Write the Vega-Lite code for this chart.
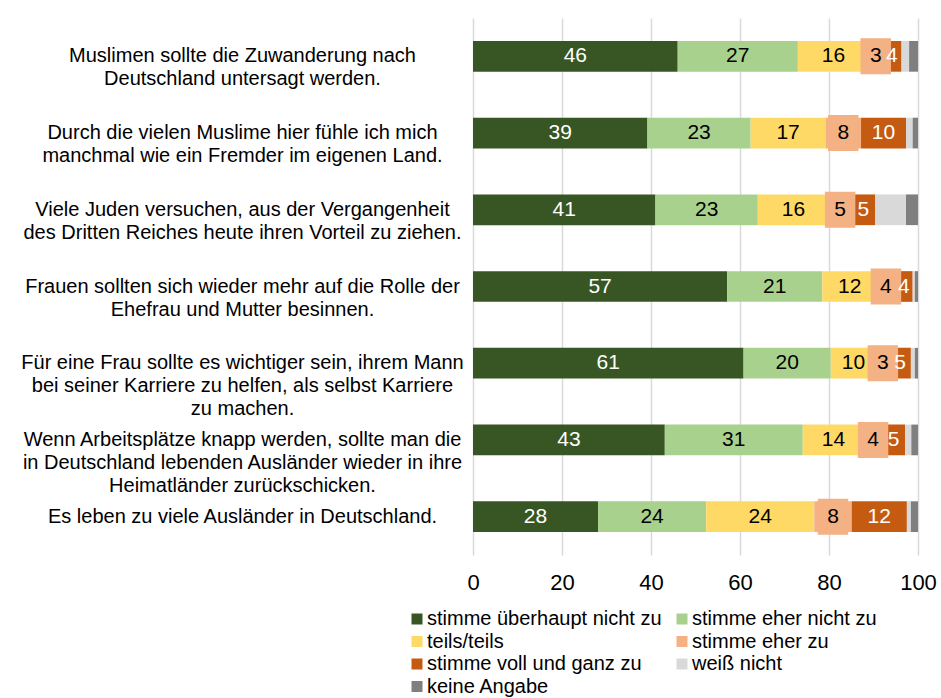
{
  "$schema": "https://vega.github.io/schema/vega-lite/v6.json",
  "width": 445,
  "height": 537,
  "autosize": {"type": "none"},
  "padding": {"left": 473, "top": 18, "right": 23, "bottom": 143},
  "background": "white",
  "config": {"view": {"stroke": null}, "font": "Liberation Sans"},
  "data": {
    "values": [
      {"q": "Muslimen sollte die Zuwanderung nach\nDeutschland untersagt werden.", "c": "stimme überhaupt nicht zu", "o": 1, "v": 46},
      {"q": "Muslimen sollte die Zuwanderung nach\nDeutschland untersagt werden.", "c": "stimme eher nicht zu", "o": 2, "v": 27},
      {"q": "Muslimen sollte die Zuwanderung nach\nDeutschland untersagt werden.", "c": "teils/teils", "o": 3, "v": 16},
      {"q": "Muslimen sollte die Zuwanderung nach\nDeutschland untersagt werden.", "c": "stimme eher zu", "o": 4, "v": 3},
      {"q": "Muslimen sollte die Zuwanderung nach\nDeutschland untersagt werden.", "c": "stimme voll und ganz zu", "o": 5, "v": 4.3},
      {"q": "Muslimen sollte die Zuwanderung nach\nDeutschland untersagt werden.", "c": "weiß nicht", "o": 6, "v": 1.7},
      {"q": "Muslimen sollte die Zuwanderung nach\nDeutschland untersagt werden.", "c": "keine Angabe", "o": 7, "v": 2},

      {"q": "Durch die vielen Muslime hier fühle ich mich\nmanchmal wie ein Fremder im eigenen Land.", "c": "stimme überhaupt nicht zu", "o": 1, "v": 39.2},
      {"q": "Durch die vielen Muslime hier fühle ich mich\nmanchmal wie ein Fremder im eigenen Land.", "c": "stimme eher nicht zu", "o": 2, "v": 23.2},
      {"q": "Durch die vielen Muslime hier fühle ich mich\nmanchmal wie ein Fremder im eigenen Land.", "c": "teils/teils", "o": 3, "v": 16.8},
      {"q": "Durch die vielen Muslime hier fühle ich mich\nmanchmal wie ein Fremder im eigenen Land.", "c": "stimme eher zu", "o": 4, "v": 8},
      {"q": "Durch die vielen Muslime hier fühle ich mich\nmanchmal wie ein Fremder im eigenen Land.", "c": "stimme voll und ganz zu", "o": 5, "v": 10.1},
      {"q": "Durch die vielen Muslime hier fühle ich mich\nmanchmal wie ein Fremder im eigenen Land.", "c": "weiß nicht", "o": 6, "v": 1.5},
      {"q": "Durch die vielen Muslime hier fühle ich mich\nmanchmal wie ein Fremder im eigenen Land.", "c": "keine Angabe", "o": 7, "v": 1.2},

      {"q": "Viele Juden versuchen, aus der Vergangenheit\ndes Dritten Reiches heute ihren Vorteil zu ziehen.", "c": "stimme überhaupt nicht zu", "o": 1, "v": 41},
      {"q": "Viele Juden versuchen, aus der Vergangenheit\ndes Dritten Reiches heute ihren Vorteil zu ziehen.", "c": "stimme eher nicht zu", "o": 2, "v": 23},
      {"q": "Viele Juden versuchen, aus der Vergangenheit\ndes Dritten Reiches heute ihren Vorteil zu ziehen.", "c": "teils/teils", "o": 3, "v": 16},
      {"q": "Viele Juden versuchen, aus der Vergangenheit\ndes Dritten Reiches heute ihren Vorteil zu ziehen.", "c": "stimme eher zu", "o": 4, "v": 5},
      {"q": "Viele Juden versuchen, aus der Vergangenheit\ndes Dritten Reiches heute ihren Vorteil zu ziehen.", "c": "stimme voll und ganz zu", "o": 5, "v": 5.4},
      {"q": "Viele Juden versuchen, aus der Vergangenheit\ndes Dritten Reiches heute ihren Vorteil zu ziehen.", "c": "weiß nicht", "o": 6, "v": 6.9},
      {"q": "Viele Juden versuchen, aus der Vergangenheit\ndes Dritten Reiches heute ihren Vorteil zu ziehen.", "c": "keine Angabe", "o": 7, "v": 2.7},

      {"q": "Frauen sollten sich wieder mehr auf die Rolle der\nEhefrau und Mutter besinnen.", "c": "stimme überhaupt nicht zu", "o": 1, "v": 57.1},
      {"q": "Frauen sollten sich wieder mehr auf die Rolle der\nEhefrau und Mutter besinnen.", "c": "stimme eher nicht zu", "o": 2, "v": 21.4},
      {"q": "Frauen sollten sich wieder mehr auf die Rolle der\nEhefrau und Mutter besinnen.", "c": "teils/teils", "o": 3, "v": 12.3},
      {"q": "Frauen sollten sich wieder mehr auf die Rolle der\nEhefrau und Mutter besinnen.", "c": "stimme eher zu", "o": 4, "v": 4},
      {"q": "Frauen sollten sich wieder mehr auf die Rolle der\nEhefrau und Mutter besinnen.", "c": "stimme voll und ganz zu", "o": 5, "v": 4},
      {"q": "Frauen sollten sich wieder mehr auf die Rolle der\nEhefrau und Mutter besinnen.", "c": "weiß nicht", "o": 6, "v": 0.5},
      {"q": "Frauen sollten sich wieder mehr auf die Rolle der\nEhefrau und Mutter besinnen.", "c": "keine Angabe", "o": 7, "v": 0.7},

      {"q": "Für eine Frau sollte es wichtiger sein, ihrem Mann\nbei seiner Karriere zu helfen, als selbst Karriere\nzu machen.", "c": "stimme überhaupt nicht zu", "o": 1, "v": 60.8},
      {"q": "Für eine Frau sollte es wichtiger sein, ihrem Mann\nbei seiner Karriere zu helfen, als selbst Karriere\nzu machen.", "c": "stimme eher nicht zu", "o": 2, "v": 19.6},
      {"q": "Für eine Frau sollte es wichtiger sein, ihrem Mann\nbei seiner Karriere zu helfen, als selbst Karriere\nzu machen.", "c": "teils/teils", "o": 3, "v": 10.2},
      {"q": "Für eine Frau sollte es wichtiger sein, ihrem Mann\nbei seiner Karriere zu helfen, als selbst Karriere\nzu machen.", "c": "stimme eher zu", "o": 4, "v": 3},
      {"q": "Für eine Frau sollte es wichtiger sein, ihrem Mann\nbei seiner Karriere zu helfen, als selbst Karriere\nzu machen.", "c": "stimme voll und ganz zu", "o": 5, "v": 4.8},
      {"q": "Für eine Frau sollte es wichtiger sein, ihrem Mann\nbei seiner Karriere zu helfen, als selbst Karriere\nzu machen.", "c": "weiß nicht", "o": 6, "v": 0.9},
      {"q": "Für eine Frau sollte es wichtiger sein, ihrem Mann\nbei seiner Karriere zu helfen, als selbst Karriere\nzu machen.", "c": "keine Angabe", "o": 7, "v": 0.7},

      {"q": "Wenn Arbeitsplätze knapp werden, sollte man die\nin Deutschland lebenden Ausländer wieder in ihre\nHeimatländer zurückschicken.", "c": "stimme überhaupt nicht zu", "o": 1, "v": 43.1},
      {"q": "Wenn Arbeitsplätze knapp werden, sollte man die\nin Deutschland lebenden Ausländer wieder in ihre\nHeimatländer zurückschicken.", "c": "stimme eher nicht zu", "o": 2, "v": 31},
      {"q": "Wenn Arbeitsplätze knapp werden, sollte man die\nin Deutschland lebenden Ausländer wieder in ihre\nHeimatländer zurückschicken.", "c": "teils/teils", "o": 3, "v": 13.8},
      {"q": "Wenn Arbeitsplätze knapp werden, sollte man die\nin Deutschland lebenden Ausländer wieder in ihre\nHeimatländer zurückschicken.", "c": "stimme eher zu", "o": 4, "v": 4},
      {"q": "Wenn Arbeitsplätze knapp werden, sollte man die\nin Deutschland lebenden Ausländer wieder in ihre\nHeimatländer zurückschicken.", "c": "stimme voll und ganz zu", "o": 5, "v": 5.2},
      {"q": "Wenn Arbeitsplätze knapp werden, sollte man die\nin Deutschland lebenden Ausländer wieder in ihre\nHeimatländer zurückschicken.", "c": "weiß nicht", "o": 6, "v": 1.4},
      {"q": "Wenn Arbeitsplätze knapp werden, sollte man die\nin Deutschland lebenden Ausländer wieder in ihre\nHeimatländer zurückschicken.", "c": "keine Angabe", "o": 7, "v": 1.5},

      {"q": "Es leben zu viele Ausländer in Deutschland.", "c": "stimme überhaupt nicht zu", "o": 1, "v": 28.1},
      {"q": "Es leben zu viele Ausländer in Deutschland.", "c": "stimme eher nicht zu", "o": 2, "v": 24.3},
      {"q": "Es leben zu viele Ausländer in Deutschland.", "c": "teils/teils", "o": 3, "v": 24.3},
      {"q": "Es leben zu viele Ausländer in Deutschland.", "c": "stimme eher zu", "o": 4, "v": 8.4},
      {"q": "Es leben zu viele Ausländer in Deutschland.", "c": "stimme voll und ganz zu", "o": 5, "v": 12.4},
      {"q": "Es leben zu viele Ausländer in Deutschland.", "c": "weiß nicht", "o": 6, "v": 0.9},
      {"q": "Es leben zu viele Ausländer in Deutschland.", "c": "keine Angabe", "o": 7, "v": 1.6}
    ]
  },
  "encoding": {
    "y": {
      "field": "q",
      "type": "nominal",
      "sort": null,
      "scale": {"paddingInner": 0.6, "paddingOuter": 0.3},
      "axis": {
        "title": null,
        "domain": false,
        "ticks": false,
        "tickSize": 0,
        "grid": false,
        "labelPadding": 231,
        "labelAlign": "center",
        "labelBaseline": "middle",
        "labelFontSize": 20,
        "labelLineHeight": 23,
        "labelLimit": 1000,
        "labelColor": "#000000",
        "labelFont": "Liberation Sans",
        "labelExpr": "split(datum.label, '\\n')"
      }
    }
  },
  "layer": [
    {
      "mark": {"type": "bar"},
      "encoding": {
        "x": {
          "field": "v",
          "type": "quantitative",
          "stack": "zero",
          "scale": {"domain": [0, 100], "nice": false},
          "axis": {
            "title": null,
            "values": [0, 20, 40, 60, 80, 100],
            "grid": true,
            "gridColor": "#D9D9D9",
            "gridWidth": 1.5,
            "domain": false,
            "ticks": false,
            "tickSize": 0,
            "labelPadding": 17,
            "labelFontSize": 22,
            "labelFlush": false,
            "labelColor": "#000000",
            "labelFont": "Liberation Sans"
          }
        },
        "color": {
          "field": "c",
          "type": "nominal",
          "scale": {
            "domain": ["stimme überhaupt nicht zu", "stimme eher nicht zu", "teils/teils", "stimme eher zu", "stimme voll und ganz zu", "weiß nicht", "keine Angabe"],
            "range": ["#375623", "#A9D18E", "#FFD966", "#F4B183", "#C55A11", "#D9D9D9", "#7F7F7F"]
          },
          "legend": {
            "title": null,
            "orient": "none",
            "legendX": -66,
            "legendY": 591,
            "columns": 2,
            "direction": "horizontal",
            "symbolType": "square",
            "symbolSize": 121,
            "symbolStrokeWidth": 0,
            "labelFontSize": 20,
            "labelFont": "Liberation Sans",
            "labelColor": "#000000",
            "labelLimit": 400,
            "labelOffset": 0,
            "rowPadding": 2.5,
            "columnPadding": 10,
            "padding": 0
          }
        },
        "order": {"field": "o", "type": "quantitative"}
      }
    },
    {
      "mark": {"type": "point", "shape": "M-0.847,-1H0.847V1H-0.847Z", "filled": true, "size": 1296, "color": "#F4B183", "strokeWidth": 0},
      "encoding": {
        "x": {"field": "v", "type": "quantitative", "stack": "zero", "bandPosition": 0.5},
        "detail": {"field": "c"},
        "order": {"field": "o", "type": "quantitative"},
        "opacity": {"condition": {"test": "datum.c == 'stimme eher zu'", "value": 1}, "value": 0}
      }
    },
    {
      "mark": {"type": "text", "fontSize": 21, "font": "Liberation Sans", "baseline": "middle", "align": "center"},
      "encoding": {
        "x": {"field": "v", "type": "quantitative", "stack": "zero", "bandPosition": 0.5},
        "detail": {"field": "c"},
        "order": {"field": "o", "type": "quantitative"},
        "text": {"condition": {"test": "datum.o > 5", "value": ""}, "field": "v", "type": "quantitative", "format": ".0f"},
        "color": {"condition": {"test": "datum.o == 1 || datum.o == 5", "value": "#FFFFFF"}, "value": "#000000"}
      }
    }
  ]
}
